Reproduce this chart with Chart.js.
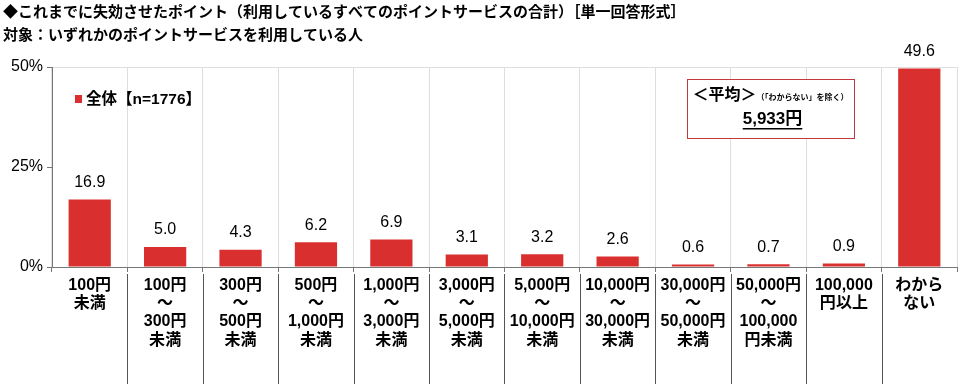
<!DOCTYPE html>
<html>
<head>
<meta charset="utf-8">
<script src="https://cdn.jsdelivr.net/npm/chart.js@4"></script>
<style>
  html, body { margin: 0; padding: 0; background: #fff; }
  #wrap { width: 960px; height: 384px; position: relative; }
</style>
</head>
<body>
<div id="wrap"><canvas id="chart"></canvas></div>
<script>
// data
const titleLines = [
    '◆これまでに失効させたポイント（利用しているすべてのポイントサービスの合計）［単一回答形式］',
    '対象：いずれかのポイントサービスを利用している人'
];
const seriesName = '全体【n=1776】';
const categories = [
    ['100円', '未満'],
    ['100円', '～', '300円', '未満'],
    ['300円', '～', '500円', '未満'],
    ['500円', '～', '1,000円', '未満'],
    ['1,000円', '～', '3,000円', '未満'],
    ['3,000円', '～', '5,000円', '未満'],
    ['5,000円', '～', '10,000円', '未満'],
    ['10,000円', '～', '30,000円', '未満'],
    ['30,000円', '～', '50,000円', '未満'],
    ['50,000円', '～', '100,000', '円未満'],
    ['100,000', '円以上'],
    ['わから', 'ない']
];
const values = [16.9, 5.0, 4.3, 6.2, 6.9, 3.1, 3.2, 2.6, 0.6, 0.7, 0.9, 49.6];
const yTicks = [0, 25, 50];
const averageLabel = '5,933円';

const FONT = "'Liberation Sans', Arial, 'Noto Sans CJK JP', sans-serif";
const BAR_RED = '#d9302f';

// 1. extra drawing: title, legend, value labels, average box, separators
const decorPlugin = {
    id: 'decor',
    afterDraw(chart) {
        const ctx = chart.ctx;
        const area = chart.chartArea;
        const xs = chart.scales.x;
        ctx.save();

        // title
        ctx.fillStyle = '#000';
        ctx.textAlign = 'left';
        ctx.textBaseline = 'middle';
        ctx.font = 'bold 15px ' + FONT;
        ctx.fillText(titleLines[0], 3, 13);
        ctx.fillText(titleLines[1], 3, 36);

        // legend inside plot
        ctx.fillStyle = BAR_RED;
        ctx.fillRect(75, 95, 7, 8);
        ctx.fillStyle = '#000';
        ctx.font = 'bold 15.5px ' + FONT;
        ctx.fillText(seriesName, 86, 100);

        // value labels above bars
        ctx.textAlign = 'center';
        ctx.textBaseline = 'bottom';
        ctx.font = '16px ' + FONT;
        chart.getDatasetMeta(0).data.forEach((bar, i) => {
            ctx.fillText(values[i].toFixed(1), bar.x, bar.y - 9);
        });

        // separators under the axis
        ctx.strokeStyle = '#555';
        ctx.lineWidth = 1;
        for (let i = 1; i < categories.length; i++) {
            const bx = Math.round((xs.getPixelForValue(i - 1) + xs.getPixelForValue(i)) / 2) + 0.5;
            ctx.beginPath();
            ctx.moveTo(bx, area.bottom + 7);
            ctx.lineTo(bx, chart.height);
            ctx.stroke();
        }

        // average box
        const bx = 687, by = 79, bw = 167, bh = 59;
        ctx.fillStyle = '#fff';
        ctx.fillRect(bx, by, bw, bh);
        ctx.strokeStyle = '#c0393b';
        ctx.strokeRect(bx + 0.5, by + 0.5, bw, bh);
        ctx.fillStyle = '#000';
        ctx.textBaseline = 'middle';
        ctx.textAlign = 'left';
        const head = '＜平均＞';
        const note = '（「わからない」を除く）';
        ctx.font = 'bold 16px ' + FONT;
        const headW = ctx.measureText(head).width;
        ctx.font = 'bold 8px ' + FONT;
        const noteW = ctx.measureText(note).width;
        const tx = bx + (bw - headW - noteW) / 2;
        ctx.font = 'bold 16px ' + FONT;
        ctx.fillText(head, tx, by + 17);
        ctx.font = 'bold 8px ' + FONT;
        ctx.fillText(note, tx + headW, by + 19);
        ctx.textAlign = 'center';
        ctx.font = 'bold 17px ' + FONT;
        const cx = bx + bw / 2 + 2;
        ctx.fillText(averageLabel, cx, by + 40);
        const aw = ctx.measureText(averageLabel).width;
        ctx.fillRect(cx - aw / 2, by + 49, aw, 1.5);

        ctx.restore();
    }
};

new Chart(document.getElementById('chart'), {
    type: 'bar',
    data: {
        labels: categories,
        datasets: [{
            label: seriesName,
            data: values,
            backgroundColor: BAR_RED,
            barPercentage: 0.56,
            categoryPercentage: 1.0
        }]
    },
    options: {
        responsive: true,
        maintainAspectRatio: false,
        animation: false,
        layout: { padding: { top: 67, right: 3, left: 0, bottom: 0 } },
        plugins: {
            legend: { display: false },
            tooltip: { enabled: false }
        },
        scales: {
            x: {
                grid: {
                    offset: true,
                    color: '#dedede',
                    tickColor: '#777',
                    tickLength: 5
                },
                border: { color: '#777' },
                ticks: {
                    color: '#000',
                    font: { family: FONT, size: 16, weight: 'bold', lineHeight: 1.15 },
                    padding: 4,
                    maxRotation: 0,
                    autoSkip: false
                },
                afterFit: (s) => { s.height = 117; }
            },
            y: {
                min: 0,
                max: 50,
                afterBuildTicks: (s) => { s.ticks = yTicks.map(v => ({ value: v })); },
                grid: {
                    color: (c) => (c.tick && c.tick.value === 50 ? '#dedede' : 'rgba(0,0,0,0)'),
                    tickColor: '#777',
                    tickLength: 5
                },
                border: { color: '#777' },
                ticks: {
                    color: '#000',
                    font: { family: FONT, size: 16 },
                    padding: 4,
                    callback: (v) => v + '%'
                },
                afterFit: (s) => { s.width = 52; }
            }
        }
    },
    plugins: [decorPlugin]
});
</script>
</body>
</html>
